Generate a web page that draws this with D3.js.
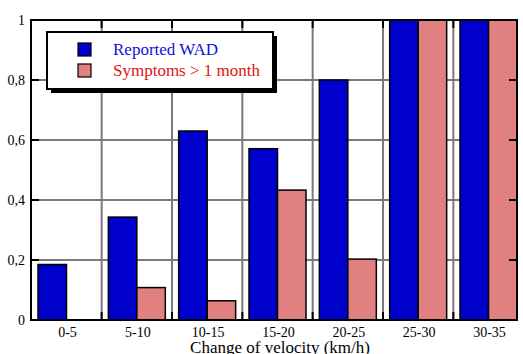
<!DOCTYPE html>
<html>
<head>
<meta charset="utf-8">
<script src="https://cdn.jsdelivr.net/npm/d3@7"></script>
<style>
  body { margin: 0; background: #fff; }
  svg { display: block; }
  text { font-family: 'Liberation Serif', 'Times New Roman', 'DejaVu Serif', serif; }
</style>
</head>
<body>
<div id="chart"></div>
<script>
const categories = ["0-5", "5-10", "10-15", "15-20", "20-25", "25-30", "30-35"];
const reportedWAD = [0.185, 0.343, 0.63, 0.571, 0.8, 1, 1];
const symptomsMonth = [0, 0.108, 0.064, 0.433, 0.203, 1, 1];
const yTicks = [0, 0.2, 0.4, 0.6, 0.8, 1];
const seriesNames = ["Reported WAD", "Symptoms > 1 month"];
const seriesColors = ["#0000cc", "#e08080"];
const textColors = ["#1010dd", "#dd1515"];

const width = 523;
const height = 354;
const plotLeft = 31, plotRight = 517, plotTop = 20, plotBottom = 320;

const svg = d3.select("#chart")
  .append("svg")
  .attr("width", width)
  .attr("height", height);

const x = d3.scaleBand()
  .domain(categories)
  .range([38, plotRight])
  .paddingInner(0.19)
  .paddingOuter(0);

const xSub = d3.scaleBand()
  .domain([0, 1])
  .range([0, x.bandwidth()]);

const y = d3.scaleLinear()
  .domain([0, 1])
  .range([plotBottom, plotTop]);

const fmt = d3.formatLocale({ decimal: ",", thousands: ".", grouping: [3], currency: ["", ""] }).format(".1~f");

// grid
const gapOffset = x.step() * x.paddingInner() / 2;
const vLines = categories.slice(1).map(c => x(c) - gapOffset);

svg.append("g")
  .attr("stroke", "#7a7a7a")
  .attr("stroke-width", 2)
  .selectAll("line.h")
  .data(yTicks.filter(t => t > 0 && t < 1))
  .enter().append("line")
    .attr("x1", plotLeft).attr("x2", plotRight)
    .attr("y1", d => y(d)).attr("y2", d => y(d));

svg.append("g")
  .attr("stroke", "#7a7a7a")
  .attr("stroke-width", 2)
  .selectAll("line.v")
  .data(vLines)
  .enter().append("line")
    .attr("x1", d => d).attr("x2", d => d)
    .attr("y1", plotTop).attr("y2", plotBottom);

// bars
const series = [reportedWAD, symptomsMonth];
series.forEach(function(values, s) {
  svg.append("g")
    .selectAll("rect")
    .data(values.map((v, i) => ({ cat: categories[i], value: v })).filter(d => d.value > 0))
    .enter().append("rect")
      .attr("x", d => x(d.cat) + xSub(s))
      .attr("y", d => y(d.value))
      .attr("width", xSub.bandwidth())
      .attr("height", d => y(0) - y(d.value))
      .attr("fill", seriesColors[s])
      .attr("stroke", "#000")
      .attr("stroke-width", 1.5);
});

// axes frame
svg.append("rect")
  .attr("x", plotLeft).attr("y", plotTop)
  .attr("width", plotRight - plotLeft).attr("height", plotBottom - plotTop)
  .attr("fill", "none")
  .attr("stroke", "#000")
  .attr("stroke-width", 2);

// tick marks
const tickG = svg.append("g").attr("stroke", "#000").attr("stroke-width", 2);
yTicks.filter(t => t > 0 && t < 1).forEach(function(t) {
  tickG.append("line").attr("x1", plotLeft).attr("x2", plotLeft + 8).attr("y1", y(t)).attr("y2", y(t));
  tickG.append("line").attr("x1", plotRight).attr("x2", plotRight - 8).attr("y1", y(t)).attr("y2", y(t));
});
vLines.forEach(function(v) {
  tickG.append("line").attr("x1", v).attr("x2", v).attr("y1", plotBottom).attr("y2", plotBottom - 8);
  tickG.append("line").attr("x1", v).attr("x2", v).attr("y1", plotTop).attr("y2", plotTop + 8);
});

// y labels
svg.append("g")
  .selectAll("text")
  .data(yTicks)
  .enter().append("text")
    .attr("x", plotLeft - 6)
    .attr("y", d => y(d))
    .attr("dy", "0.35em")
    .attr("text-anchor", "end")
    .attr("font-size", 14)
    .text(d => fmt(d));

// x labels
svg.append("g")
  .selectAll("text")
  .data(categories)
  .enter().append("text")
    .attr("x", d => x(d) + x.bandwidth() / 2 + 1)
    .attr("y", 337)
    .attr("text-anchor", "middle")
    .attr("font-size", 14)
    .text(d => d);

svg.append("text")
  .attr("x", 280)
  .attr("y", 353)
  .attr("text-anchor", "middle")
  .attr("font-size", 17)
  .text("Change of velocity (km/h)");

// legend
const legend = svg.append("g");
legend.append("rect")
  .attr("x", 51).attr("y", 36)
  .attr("width", 226).attr("height", 57)
  .attr("fill", "#000");
legend.append("rect")
  .attr("x", 47).attr("y", 32)
  .attr("width", 226).attr("height", 57)
  .attr("fill", "#fff")
  .attr("stroke", "#000")
  .attr("stroke-width", 2);

seriesNames.forEach(function(name, i) {
  legend.append("rect")
    .attr("x", 78).attr("y", 43 + i * 21)
    .attr("width", 13).attr("height", 13)
    .attr("fill", seriesColors[i])
    .attr("stroke", "#000")
    .attr("stroke-width", 1.2);
  legend.append("text")
    .attr("x", 113).attr("y", 55 + i * 21)
    .attr("font-size", 17)
    .attr("fill", textColors[i])
    .text(name);
});
</script>
</body>
</html>
